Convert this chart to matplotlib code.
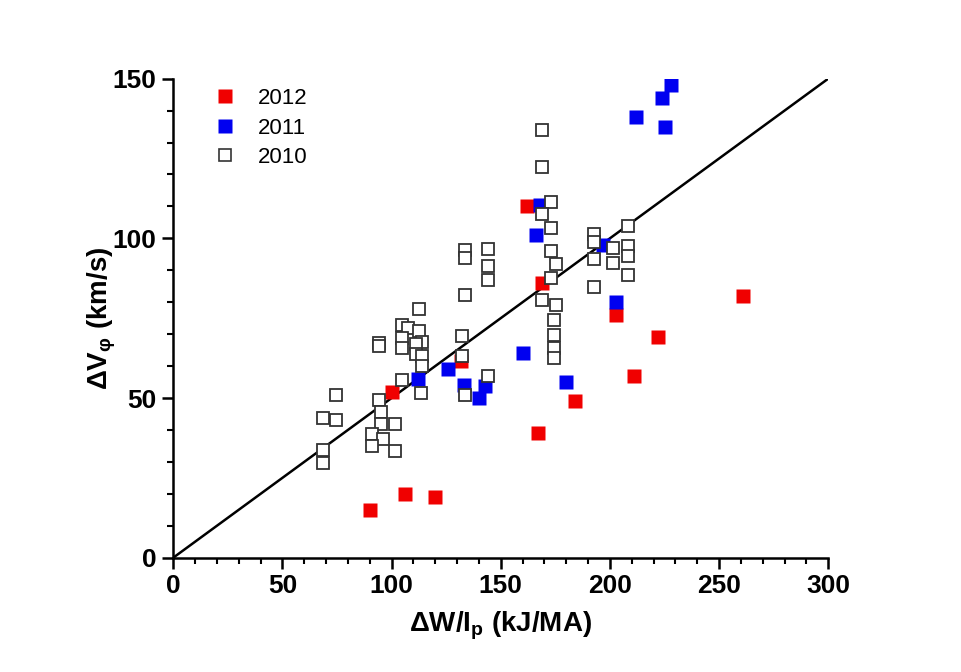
import matplotlib
matplotlib.use("Agg")
import matplotlib.pyplot as plt
from matplotlib.ticker import MultipleLocator
from matplotlib.lines import Line2D

plt.rcParams['font.family'] = ['Liberation Sans', 'DejaVu Sans']
plt.rcParams['mathtext.fontset'] = 'custom'
plt.rcParams['mathtext.rm'] = 'Liberation Sans'
plt.rcParams['mathtext.bf'] = 'Liberation Sans:bold'
plt.rcParams['mathtext.it'] = 'Liberation Sans:italic'

# 2012 campaign
x_2012 = [90, 106, 120, 100, 132, 162, 169, 167, 184, 203, 211, 222, 261]
y_2012 = [15, 20, 19, 52, 61.5, 110, 86, 39, 49, 76, 57, 69, 82]

# 2011 campaign
x_2011 = [112, 126, 133, 140, 143, 160, 180, 166, 168, 197, 203, 212, 224, 228, 225]
y_2011 = [56, 59, 54, 50, 53.7, 64, 55, 101, 110.5, 98, 80, 138, 144, 148, 135]

# 2010 campaign
x_2010 = [112.7, 104.7, 107.5, 112.7, 104.7, 113.8, 94.4, 94.4, 104.7, 111.2,
          111.2, 113.8, 113.8, 104.7, 113.7,
          94.1, 95.1, 95.1, 101.7, 91.0, 96.0, 91.0, 101.7,
          74.5, 68.6, 74.5, 68.6, 68.6,
          133.5, 133.5, 133.5, 132.2, 132.2, 133.5,
          144.4, 144.4, 144.4, 144.4,
          168.8, 168.8, 173.2, 168.8, 173.2, 173.2, 175.3, 173.2, 168.8, 175.3,
          174.2, 174.2, 174.2, 174.2,
          192.9, 192.9, 208.1, 201.4, 208.1, 208.1, 192.9, 201.4, 208.1, 192.9]
y_2010 = [78.0, 72.8, 71.9, 71.1, 68.8, 67.7, 67.2, 66.2, 65.7, 66.9,
          63.8, 63.1, 59.9, 55.7, 51.5,
          49.5, 45.6, 41.9, 42.0, 38.7, 37.2, 35.1, 33.3,
          50.8, 43.7, 43.0, 33.8, 29.8,
          96.5, 93.9, 82.4, 69.5, 63.1, 51.0,
          96.7, 91.3, 87.1, 57.0,
          134.0, 122.4, 111.3, 107.7, 103.3, 95.9, 92.1, 87.6, 80.8, 79.2,
          74.5, 69.8, 65.7, 62.5,
          101.5, 98.8, 103.8, 97.0, 97.7, 94.4, 93.5, 92.3, 88.6, 84.8]

# reference line dV = 0.5 * dW/Ip
line_x = [0, 300]
line_y = [0, 150]

red = '#f00000'
blue = '#0000f0'

fig = plt.figure(figsize=(9.62, 6.72), dpi=100)
ax = fig.add_axes([0.180, 0.170, 0.681, 0.713])

ax.plot(line_x, line_y, color='black', lw=1.8, zorder=2)
ax.plot(x_2012, y_2012, 's', ms=10, mfc=red, mec='none', zorder=3, label='2012')
ax.plot(x_2011, y_2011, 's', ms=10, mfc=blue, mec='none', zorder=3, label='2011')
ax.plot(x_2010, y_2010, 's', ms=9, mfc='white', mec='#333333', mew=1.3, zorder=4, label='2010')

ax.set_xlim(0, 300)
ax.set_ylim(0, 150)
ax.xaxis.set_major_locator(MultipleLocator(50))
ax.xaxis.set_minor_locator(MultipleLocator(10))
ax.yaxis.set_major_locator(MultipleLocator(50))
ax.yaxis.set_minor_locator(MultipleLocator(10))

for side in ['top', 'right']:
    ax.spines[side].set_visible(False)
for side in ['left', 'bottom']:
    ax.spines[side].set_linewidth(1.8)
ax.tick_params(which='major', direction='out', length=8, width=1.8, pad=4)
ax.tick_params(which='minor', direction='out', length=4, width=1.5)
for lab in ax.get_xticklabels() + ax.get_yticklabels():
    lab.set_fontsize(19)
    lab.set_fontweight('bold')

ax.set_xlabel(r'ΔW/I$_\mathbf{p}$ (kJ/MA)', fontsize=20, fontweight='bold', labelpad=8)
ax.set_ylabel(r'ΔV$_\mathbf{φ}$ (km/s)', fontsize=20, fontweight='bold')
ax.yaxis.set_label_coords(-0.084, 0.5)

handles = [
    Line2D([], [], ls='none', marker='s', ms=10, mfc=red, mec='none'),
    Line2D([], [], ls='none', marker='s', ms=10, mfc=blue, mec='none'),
    Line2D([], [], ls='none', marker='s', ms=9, mfc='white', mec='#333333', mew=1.2),
]
ax.legend(handles, ['2012', '2011', '2010'], loc='upper left', bbox_to_anchor=(0.031, 1.022),
          frameon=False, fontsize=16, handlelength=1.0, handletextpad=1.0, labelspacing=0.38)

fig.savefig('out.png', dpi=100)
